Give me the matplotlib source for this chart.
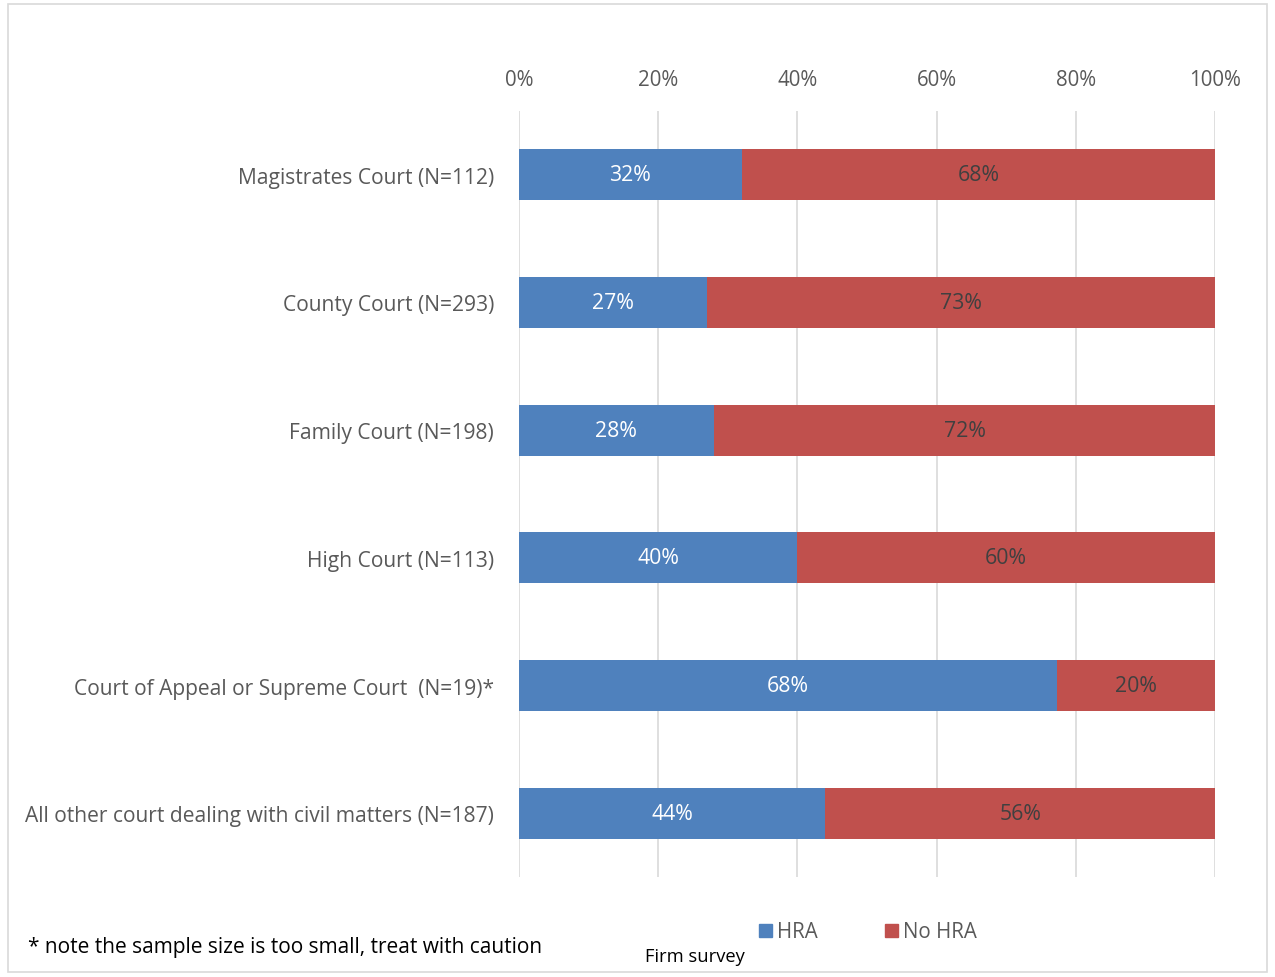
import matplotlib.pyplot as plt
from matplotlib.patches import Rectangle

plt.rcParams['font.family'] = ['Open Sans', 'DejaVu Sans']

categories = [
    'Magistrates Court (N=112)',
    'County Court (N=293)',
    'Family Court (N=198)',
    'High Court (N=113)',
    'Court of Appeal or Supreme Court  (N=19)*',
    'All other court dealing with civil matters (N=187)',
]
hra = [32, 27, 28, 40, 68, 44]
no_hra = [68, 73, 72, 60, 20, 56]
ticks = [0, 20, 40, 60, 80, 100]

blue = '#4F81BD'
red = '#C0504D'

fig = plt.figure(figsize=(12.75, 9.78), dpi=100)
ax = fig.add_axes([0.407, 0.1022, 0.546, 0.7833])

# 100% stacked: each row is scaled by its own total
y = list(range(len(categories)))
for i, (a, b) in enumerate(zip(hra, no_hra)):
    tot = a + b
    wa = a / tot * 100
    wb = b / tot * 100
    ax.barh(i, wa, height=0.4, color=blue, zorder=3)
    ax.barh(i, wb, left=wa, height=0.4, color=red, zorder=3)
    ax.text(wa / 2, i, f'{a}%', ha='center', va='center', color='white',
            fontsize=15.3, zorder=4)
    ax.text(wa + wb / 2, i, f'{b}%', ha='center', va='center', color='#404040',
            fontsize=15.3, zorder=4)

ax.set_xlim(0, 100)
ax.set_ylim(len(categories) - 0.5, -0.5)
ax.set_xticks(ticks)
ax.set_xticklabels([f'{t}%' for t in ticks], fontsize=14.8, color='#595959')
ax.xaxis.tick_top()
ax.tick_params(axis='x', length=0, pad=15)
ax.set_yticks(y)
ax.set_yticklabels(categories, fontsize=15.1, color='#595959')
ax.tick_params(axis='y', length=0, pad=18)
ax.grid(axis='x', color='#D9D9D9', linewidth=1.2, zorder=0)
for s in ax.spines.values():
    s.set_visible(False)

# frame, legend and notes
ax_l = fig.add_axes([0, 0, 1, 1], zorder=-1)
ax_l.set_xlim(0, 1275)
ax_l.set_ylim(978, 0)
ax_l.axis('off')
ax_l.add_patch(Rectangle((8, 5), 1259, 968, fill=False, edgecolor='#D9D9D9', linewidth=1.2))
ax_l.add_patch(Rectangle((759, 925), 13, 13, color=blue))
ax_l.text(777, 932, 'HRA', va='center', fontsize=14.8, color='#595959')
ax_l.add_patch(Rectangle((885, 925), 13, 13, color=red))
ax_l.text(903, 932, 'No HRA', va='center', fontsize=14.8, color='#595959')
ax_l.text(28, 948, '* note the sample size is too small, treat with caution',
          va='center', fontsize=15, color='black')
ax_l.text(645, 957, 'Firm survey', va='center', fontsize=13.2, color='black')

fig.savefig('out.png', dpi=100)
